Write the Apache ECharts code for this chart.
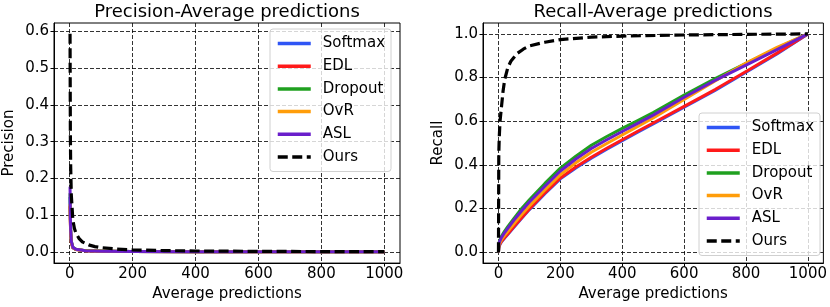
<!DOCTYPE html>
<html>
<head>
<meta charset="utf-8">
<script src="https://cdn.jsdelivr.net/npm/echarts@6/dist/echarts.min.js"></script>
<style>html,body{margin:0;padding:0;background:#fff}#c{width:830px;height:307px}</style>
</head>
<body>
<div id="c"></div>
<script>
// ---- data ----
const methods = ['Softmax', 'EDL', 'Dropout', 'OvR', 'ASL', 'Ours'];
const xTicks = [0, 200, 400, 600, 800, 1000];
const precTicks = [0, 0.1, 0.2, 0.3, 0.4, 0.5, 0.6];
const recTicks = [0, 0.2, 0.4, 0.6, 0.8, 1.0];

// recall of baselines
const xRecBase   = [0, 1, 2, 5, 10, 20, 30, 50, 75, 100, 150, 200, 250, 300, 350, 400, 450, 500, 600, 700, 800, 900, 1000];
const recSoftmax = [0, 0.02, 0.028, 0.036, 0.048, 0.065, 0.081, 0.114, 0.155, 0.195, 0.268, 0.336, 0.386, 0.431, 0.472, 0.511, 0.55, 0.588, 0.664, 0.741, 0.824, 0.908, 1.0];
const recEDL     = [0, 0.022, 0.03, 0.038, 0.05, 0.067, 0.083, 0.117, 0.158, 0.198, 0.272, 0.34, 0.39, 0.435, 0.476, 0.515, 0.554, 0.592, 0.668, 0.745, 0.828, 0.912, 1.0];
const recDropout = [0, 0.03, 0.045, 0.058, 0.074, 0.097, 0.117, 0.155, 0.2, 0.24, 0.315, 0.385, 0.44, 0.49, 0.53, 0.567, 0.603, 0.64, 0.72, 0.795, 0.865, 0.935, 1.0];
const recOvR     = [0, 0.025, 0.035, 0.044, 0.057, 0.077, 0.095, 0.13, 0.173, 0.212, 0.285, 0.355, 0.41, 0.458, 0.498, 0.537, 0.576, 0.615, 0.7, 0.785, 0.866, 0.938, 1.0];
const recASL     = [0, 0.03, 0.042, 0.053, 0.068, 0.09, 0.109, 0.147, 0.19, 0.23, 0.302, 0.372, 0.427, 0.475, 0.515, 0.553, 0.59, 0.628, 0.71, 0.787, 0.857, 0.928, 1.0];

// recall of ours
const xRecOurs = [0, 1, 2, 3, 5, 10, 15, 20, 30, 40, 60, 80, 100, 150, 200, 300, 400, 600, 800, 1000];
const recOurs  = [0, 0.45, 0.5, 0.54, 0.6, 0.67, 0.74, 0.79, 0.845, 0.875, 0.91, 0.93, 0.945, 0.962, 0.974, 0.985, 0.99, 0.995, 0.998, 1.0];

// precision of baselines
const xPrecBase   = [1, 2, 3, 5, 10, 20, 50, 100, 200, 400, 600, 800, 1000];
const precSoftmax = [0.15, 0.085, 0.055, 0.028, 0.012, 0.007, 0.0037, 0.0026, 0.0017, 0.0012, 0.001, 0.0009, 0.0008];
const precEDL     = [0.125, 0.08, 0.05, 0.026, 0.012, 0.007, 0.0037, 0.0026, 0.0017, 0.0012, 0.001, 0.0009, 0.0008];
const precDropout = [0.16, 0.095, 0.06, 0.03, 0.013, 0.008, 0.0042, 0.0029, 0.0019, 0.0013, 0.0011, 0.0009, 0.0008];
const precOvR     = [0.13, 0.082, 0.052, 0.027, 0.012, 0.0072, 0.0038, 0.0027, 0.0018, 0.0012, 0.001, 0.0009, 0.0008];
const precASL     = [0.178, 0.1, 0.06, 0.03, 0.013, 0.008, 0.004, 0.0028, 0.0018, 0.0012, 0.001, 0.0009, 0.0008];

// precision of ours
const xPrecOurs = [1, 2, 3, 5, 10, 15, 20, 30, 40, 60, 80, 100, 150, 200, 300, 400, 600, 800, 1000];
const precOurs  = [0.593, 0.325, 0.234, 0.156, 0.087, 0.064, 0.051, 0.037, 0.028, 0.0197, 0.0151, 0.0123, 0.0083, 0.0063, 0.0043, 0.0032, 0.0022, 0.0016, 0.0013];

const colors = { Softmax: '#2f55f5', EDL: '#ff1a1a', Dropout: '#1fa01f', OvR: '#ff9d0a', ASL: '#6a1ecb', Ours: '#000000' };

function zip(xs, ys) { return xs.map((x, i) => [x, ys[i]]); }

const precData = {
  Softmax: zip(xPrecBase, precSoftmax), EDL: zip(xPrecBase, precEDL), Dropout: zip(xPrecBase, precDropout),
  OvR: zip(xPrecBase, precOvR), ASL: zip(xPrecBase, precASL), Ours: zip(xPrecOurs, precOurs)
};
const recData = {
  Softmax: zip(xRecBase, recSoftmax), EDL: zip(xRecBase, recEDL), Dropout: zip(xRecBase, recDropout),
  OvR: zip(xRecBase, recOvR), ASL: zip(xRecBase, recASL), Ours: zip(xRecOurs, recOurs)
};

const FONT = 'DejaVu Sans';
const FS = 15;
const gridLine = { show: true, lineStyle: { color: '#000', width: 0.8, type: [4, 2] } };

function xAxis(gi) {
  return {
    type: 'value', gridIndex: gi, min: -50, max: 1050,
    name: 'Average predictions', nameLocation: 'middle', nameGap: 23,
    nameTextStyle: { fontFamily: FONT, fontSize: FS, color: '#000' },
    axisLine: { show: true, onZero: false, lineStyle: { color: '#000', width: 1 } },
    axisTick: { show: true, inside: false, length: 3.5, customValues: xTicks, lineStyle: { color: '#000' } },
    axisLabel: { customValues: xTicks, margin: 4, fontFamily: FONT, fontSize: FS, color: '#000',
      formatter: v => String(v) },
    splitLine: gridLine
  };
}
function yAxis(gi, name, min, max, ticks) {
  return {
    type: 'value', gridIndex: gi, min: min, max: max,
    name: name, nameLocation: 'middle', nameGap: 37,
    nameTextStyle: { fontFamily: FONT, fontSize: FS, color: '#000' },
    axisLine: { show: true, onZero: false, lineStyle: { color: '#000', width: 1 } },
    axisTick: { show: true, inside: false, length: 3.5, customValues: ticks, lineStyle: { color: '#000' } },
    axisLabel: { customValues: ticks, margin: 5, fontFamily: FONT, fontSize: FS, color: '#000',
      formatter: v => v.toFixed(1) },
    splitLine: gridLine
  };
}

const series = [];
methods.forEach(m => {
  [[0, precData], [1, recData]].forEach(([gi, d]) => {
    const dashed = m === 'Ours';
    series.push({
      name: m, type: 'line', xAxisIndex: gi, yAxisIndex: gi,
      data: d[m], symbol: 'none', smooth: false, clip: true,
      lineStyle: { color: colors[m], width: dashed ? 3.2 : 3, type: dashed ? [10, 4.5] : 'solid', join: 'round' },
      itemStyle: { color: colors[m] },
      z: 2 + methods.indexOf(m)
    });
  });
});

function legend(left, top) {
  return {
    data: methods, orient: 'vertical', left: left, top: top,
    itemWidth: 33, itemHeight: 15, itemGap: 7.7,
    padding: [7, 6, 7, 6],
    itemStyle: { opacity: 0 },
    lineStyle: { width: 3.5 },
    backgroundColor: 'rgba(255,255,255,0.8)', borderColor: '#d0d0d0', borderWidth: 1, borderRadius: 3,
    textStyle: { fontFamily: FONT, fontSize: FS, color: '#000', padding: [0, 0, 0, 7] },
    selectedMode: false
  };
}

const chart = echarts.init(document.getElementById('c'), null, { renderer: 'canvas' });
chart.setOption({
  animation: false,
  backgroundColor: '#fff',
  title: [
    { text: 'Precision-Average predictions', left: 227, top: 0, textAlign: 'center', padding: [3, 0, 0, 0],
      textStyle: { fontFamily: FONT, fontSize: 18, fontWeight: 'normal', color: '#000' } },
    { text: 'Recall-Average predictions', left: 653, top: 0, textAlign: 'center', padding: [3, 0, 0, 0],
      textStyle: { fontFamily: FONT, fontSize: 18, fontWeight: 'normal', color: '#000' } }
  ],
  grid: [
    { left: 54, top: 23, width: 346, height: 241, show: true, borderColor: '#000', borderWidth: 1, backgroundColor: 'transparent' },
    { left: 483, top: 23, width: 341, height: 241, show: true, borderColor: '#000', borderWidth: 1, backgroundColor: 'transparent' }
  ],
  xAxis: [xAxis(0), xAxis(1)],
  yAxis: [yAxis(0, 'Precision', -0.0297, 0.6225, precTicks), yAxis(1, 'Recall', -0.05, 1.05, recTicks)],
  legend: [legend(270, 29), legend(699, 113)],
  series: series
});
</script>
</body>
</html>
